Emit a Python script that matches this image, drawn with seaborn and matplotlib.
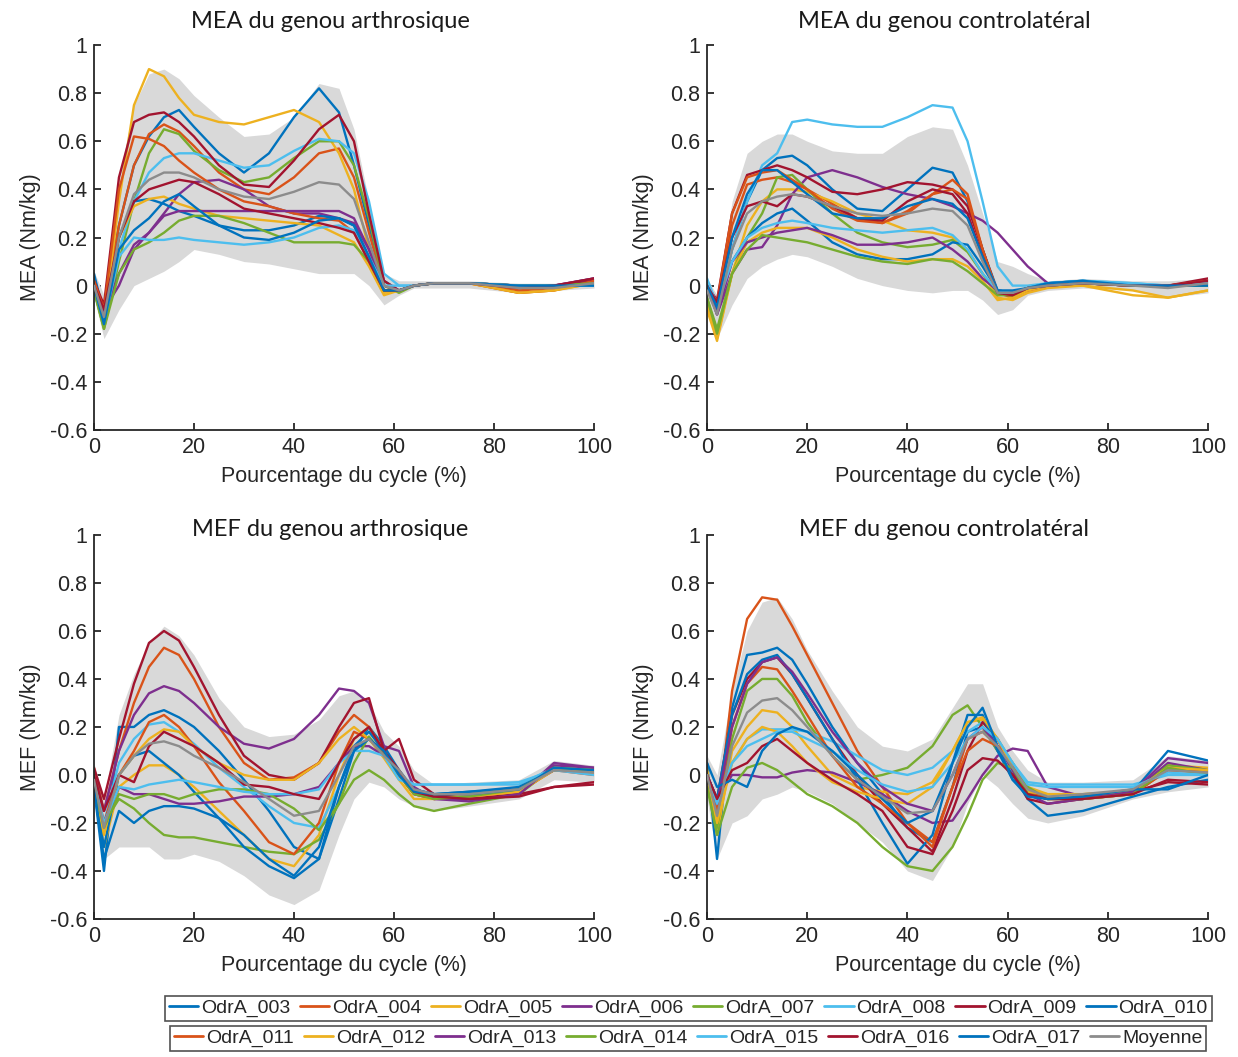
import numpy as np
import pandas as pd
import matplotlib
matplotlib.use('Agg')
import matplotlib.pyplot as plt
from matplotlib.lines import Line2D
import seaborn as sns

# percentage of gait cycle where curves were read
cycle = [0, 2, 5, 8, 11, 14, 17, 20, 25, 30, 35, 40, 45, 49, 52, 55, 58, 61, 64, 68, 75, 85, 92, 100]

subjects = ['OdrA_003', 'OdrA_004', 'OdrA_005', 'OdrA_006', 'OdrA_007', 'OdrA_008', 'OdrA_009', 'OdrA_010',
            'OdrA_011', 'OdrA_012', 'OdrA_013', 'OdrA_014', 'OdrA_015', 'OdrA_016', 'OdrA_017']

# MEA - genou arthrosique
mea_arth = {
    'OdrA_003': [0.05, -0.12, 0.25, 0.5, 0.62, 0.7, 0.73, 0.66, 0.55, 0.47, 0.55, 0.7, 0.82, 0.72, 0.5, 0.25, 0.02, -0.02, 0.0, 0.01, 0.01, 0.0, 0.0, 0.0],
    'OdrA_004': [0.02, -0.1, 0.25, 0.5, 0.63, 0.67, 0.64, 0.58, 0.47, 0.4, 0.38, 0.45, 0.55, 0.57, 0.45, 0.22, 0.0, -0.02, 0.0, 0.01, 0.01, -0.02, -0.01, 0.02],
    'OdrA_005': [0.0, -0.15, 0.35, 0.75, 0.9, 0.87, 0.78, 0.71, 0.68, 0.67, 0.7, 0.73, 0.68, 0.55, 0.4, 0.15, -0.03, -0.02, 0.0, 0.01, 0.01, -0.03, -0.02, 0.01],
    'OdrA_006': [0.0, -0.1, 0.0, 0.15, 0.22, 0.3, 0.38, 0.43, 0.44, 0.4, 0.33, 0.3, 0.3, 0.28, 0.26, 0.15, 0.0, -0.02, 0.0, 0.01, 0.01, 0.0, 0.0, 0.03],
    'OdrA_007': [-0.02, -0.18, 0.1, 0.35, 0.55, 0.65, 0.63, 0.56, 0.48, 0.43, 0.45, 0.53, 0.6, 0.6, 0.5, 0.28, 0.0, -0.03, 0.0, 0.01, 0.01, 0.0, 0.0, 0.02],
    'OdrA_008': [0.0, -0.15, 0.15, 0.35, 0.47, 0.53, 0.55, 0.55, 0.52, 0.49, 0.5, 0.56, 0.61, 0.6, 0.55, 0.35, 0.05, 0.0, 0.0, 0.01, 0.01, 0.0, 0.0, 0.0],
    'OdrA_009': [0.02, -0.08, 0.45, 0.68, 0.71, 0.72, 0.68, 0.62, 0.5, 0.42, 0.41, 0.52, 0.65, 0.71, 0.6, 0.3, 0.02, -0.02, 0.0, 0.01, 0.01, 0.0, 0.0, 0.02],
    'OdrA_010': [0.0, -0.15, 0.2, 0.35, 0.36, 0.34, 0.31, 0.29, 0.25, 0.23, 0.23, 0.25, 0.29, 0.28, 0.25, 0.12, -0.02, -0.02, 0.0, 0.01, 0.01, 0.0, 0.0, 0.01],
    'OdrA_011': [0.02, -0.1, 0.4, 0.62, 0.61, 0.58, 0.52, 0.47, 0.4, 0.35, 0.33, 0.3, 0.28, 0.27, 0.22, 0.1, -0.02, -0.02, 0.0, 0.01, 0.01, -0.03, -0.02, 0.02],
    'OdrA_012': [0.0, -0.15, 0.2, 0.33, 0.36, 0.37, 0.34, 0.32, 0.29, 0.28, 0.27, 0.26, 0.25, 0.21, 0.18, 0.08, -0.04, -0.02, 0.0, 0.01, 0.01, -0.03, -0.02, 0.01],
    'OdrA_013': [0.0, -0.12, 0.05, 0.17, 0.22, 0.29, 0.31, 0.31, 0.31, 0.31, 0.31, 0.31, 0.31, 0.31, 0.28, 0.15, 0.0, -0.02, 0.0, 0.01, 0.01, 0.0, 0.0, 0.03],
    'OdrA_014': [-0.02, -0.18, 0.05, 0.15, 0.18, 0.22, 0.27, 0.29, 0.29, 0.26, 0.22, 0.18, 0.18, 0.18, 0.17, 0.1, -0.02, -0.02, 0.0, 0.01, 0.01, 0.0, 0.0, 0.01],
    'OdrA_015': [0.0, -0.15, 0.12, 0.2, 0.19, 0.19, 0.2, 0.19, 0.18, 0.17, 0.18, 0.2, 0.24, 0.25, 0.23, 0.12, 0.0, 0.0, 0.0, 0.01, 0.01, 0.0, 0.0, 0.0],
    'OdrA_016': [0.0, -0.1, 0.2, 0.35, 0.4, 0.42, 0.44, 0.43, 0.38, 0.32, 0.3, 0.28, 0.26, 0.24, 0.22, 0.1, -0.02, -0.02, 0.0, 0.01, 0.01, -0.01, 0.0, 0.03],
    'OdrA_017': [0.0, -0.16, 0.15, 0.23, 0.28, 0.35, 0.38, 0.33, 0.25, 0.2, 0.19, 0.22, 0.27, 0.28, 0.25, 0.12, -0.02, -0.02, 0.0, 0.01, 0.01, 0.0, 0.0, 0.0],
    'Moyenne':  [0.0, -0.13, 0.2, 0.38, 0.44, 0.47, 0.47, 0.45, 0.4, 0.37, 0.36, 0.39, 0.43, 0.42, 0.36, 0.18, 0.0, -0.02, 0.0, 0.01, 0.01, -0.01, -0.01, 0.01],
}
mea_arth_hi = [0.06, -0.04, 0.45, 0.75, 0.88, 0.9, 0.86, 0.79, 0.7, 0.62, 0.63, 0.7, 0.84, 0.82, 0.65, 0.35, 0.05, 0.02, 0.02, 0.02, 0.02, 0.01, 0.01, 0.03]
mea_arth_lo = [-0.05, -0.22, -0.1, 0.0, 0.03, 0.06, 0.1, 0.15, 0.13, 0.1, 0.09, 0.07, 0.05, 0.05, 0.05, 0.0, -0.08, -0.04, -0.01, -0.01, -0.01, -0.03, -0.02, -0.01]

# MEA - genou controlateral
mea_contra = {
    'OdrA_003': [0.0, -0.1, 0.15, 0.35, 0.48, 0.53, 0.54, 0.5, 0.4, 0.32, 0.31, 0.4, 0.49, 0.47, 0.35, 0.15, -0.02, -0.03, -0.01, 0.01, 0.01, 0.0, 0.0, 0.0],
    'OdrA_004': [0.0, -0.08, 0.25, 0.42, 0.44, 0.45, 0.43, 0.4, 0.34, 0.28, 0.26, 0.3, 0.38, 0.44, 0.38, 0.15, -0.03, -0.05, -0.02, 0.0, 0.01, 0.0, 0.0, 0.02],
    'OdrA_005': [-0.08, -0.22, 0.05, 0.25, 0.35, 0.4, 0.4, 0.39, 0.35, 0.3, 0.27, 0.23, 0.22, 0.2, 0.15, 0.05, -0.05, -0.06, -0.03, -0.01, 0.0, -0.02, -0.05, -0.02],
    'OdrA_006': [0.0, -0.12, 0.05, 0.15, 0.16, 0.25, 0.38, 0.45, 0.48, 0.45, 0.41, 0.38, 0.36, 0.33, 0.3, 0.27, 0.22, 0.15, 0.08, 0.01, 0.01, 0.0, 0.0, 0.0],
    'OdrA_007': [-0.05, -0.18, 0.05, 0.2, 0.3, 0.45, 0.46, 0.4, 0.3, 0.22, 0.18, 0.16, 0.17, 0.19, 0.14, 0.05, -0.03, -0.03, -0.01, 0.0, 0.01, 0.0, 0.0, 0.01],
    'OdrA_008': [0.02, -0.08, 0.15, 0.35, 0.5, 0.55, 0.68, 0.69, 0.67, 0.66, 0.66, 0.7, 0.75, 0.74, 0.6, 0.35, 0.08, 0.0, 0.0, 0.01, 0.02, 0.01, 0.0, 0.01],
    'OdrA_009': [0.0, -0.06, 0.3, 0.46, 0.48, 0.5, 0.48, 0.45, 0.39, 0.38, 0.4, 0.43, 0.42, 0.4, 0.33, 0.15, -0.03, -0.04, -0.01, 0.0, 0.01, 0.0, 0.0, 0.03],
    'OdrA_010': [0.0, -0.1, 0.1, 0.2, 0.26, 0.3, 0.32, 0.27, 0.18, 0.13, 0.11, 0.11, 0.13, 0.18, 0.17, 0.08, -0.02, -0.03, -0.01, 0.01, 0.02, 0.0, 0.0, 0.0],
    'OdrA_011': [0.0, -0.07, 0.3, 0.45, 0.47, 0.48, 0.44, 0.4, 0.32, 0.27, 0.26, 0.31, 0.38, 0.4, 0.36, 0.15, -0.03, -0.04, -0.02, 0.0, 0.01, 0.0, 0.0, 0.02],
    'OdrA_012': [-0.1, -0.23, 0.05, 0.18, 0.22, 0.24, 0.24, 0.24, 0.2, 0.15, 0.12, 0.1, 0.11, 0.11, 0.08, 0.02, -0.06, -0.05, -0.02, 0.0, 0.0, -0.04, -0.05, -0.02],
    'OdrA_013': [0.0, -0.12, 0.1, 0.18, 0.2, 0.22, 0.23, 0.24, 0.21, 0.17, 0.17, 0.18, 0.2, 0.15, 0.1, 0.03, -0.02, -0.03, -0.01, 0.0, 0.01, 0.0, 0.0, 0.01],
    'OdrA_014': [-0.05, -0.2, 0.05, 0.15, 0.21, 0.2, 0.19, 0.18, 0.15, 0.12, 0.1, 0.09, 0.11, 0.1, 0.06, 0.01, -0.04, -0.04, -0.01, 0.0, 0.01, 0.0, 0.0, 0.0],
    'OdrA_015': [0.03, -0.08, 0.1, 0.2, 0.24, 0.26, 0.27, 0.26, 0.24, 0.23, 0.22, 0.23, 0.24, 0.21, 0.15, 0.05, -0.02, -0.03, -0.01, 0.01, 0.02, 0.01, 0.0, 0.01],
    'OdrA_016': [0.0, -0.07, 0.2, 0.33, 0.35, 0.33, 0.38, 0.37, 0.33, 0.28, 0.27, 0.35, 0.4, 0.38, 0.3, 0.12, -0.03, -0.04, -0.01, 0.0, 0.01, 0.0, 0.0, 0.02],
    'OdrA_017': [0.0, -0.09, 0.2, 0.38, 0.48, 0.48, 0.43, 0.38, 0.3, 0.28, 0.28, 0.33, 0.36, 0.34, 0.28, 0.12, -0.02, -0.02, -0.01, 0.01, 0.02, 0.0, 0.0, 0.0],
    'Moyenne':  [-0.02, -0.12, 0.15, 0.3, 0.35, 0.37, 0.38, 0.37, 0.33, 0.3, 0.29, 0.3, 0.32, 0.31, 0.25, 0.1, -0.03, -0.03, -0.01, 0.0, 0.01, 0.0, -0.01, 0.01],
}
mea_contra_hi = [0.03, -0.04, 0.35, 0.55, 0.6, 0.63, 0.63, 0.6, 0.56, 0.55, 0.55, 0.62, 0.66, 0.65, 0.5, 0.3, 0.1, 0.08, 0.05, 0.02, 0.03, 0.02, 0.02, 0.03]
mea_contra_lo = [-0.1, -0.22, -0.08, 0.03, 0.08, 0.11, 0.13, 0.12, 0.08, 0.03, 0.0, -0.02, -0.03, -0.02, -0.02, -0.06, -0.12, -0.1, -0.04, -0.02, -0.01, -0.02, -0.05, -0.03]

# MEF - genou arthrosique
mef_arth = {
    'OdrA_003': [-0.05, -0.4, 0.2, 0.2, 0.25, 0.27, 0.24, 0.2, 0.1, -0.02, -0.15, -0.3, -0.35, -0.1, 0.1, 0.2, 0.12, 0.02, -0.06, -0.08, -0.07, -0.06, 0.02, 0.01],
    'OdrA_004': [0.03, -0.15, 0.1, 0.3, 0.45, 0.53, 0.5, 0.4, 0.2, 0.05, -0.02, -0.01, 0.05, 0.18, 0.25, 0.2, 0.08, 0.0, -0.08, -0.1, -0.09, -0.06, 0.02, 0.0],
    'OdrA_005': [-0.05, -0.3, -0.05, 0.0, 0.04, 0.04, 0.0, -0.05, -0.15, -0.25, -0.35, -0.38, -0.25, 0.0, 0.15, 0.2, 0.1, 0.0, -0.07, -0.09, -0.08, -0.06, 0.03, 0.02],
    'OdrA_006': [0.0, -0.15, 0.1, 0.25, 0.34, 0.37, 0.35, 0.3, 0.2, 0.13, 0.11, 0.15, 0.25, 0.36, 0.35, 0.3, 0.12, 0.1, -0.05, -0.1, -0.1, -0.08, 0.05, 0.03],
    'OdrA_007': [-0.05, -0.2, -0.1, -0.14, -0.2, -0.25, -0.26, -0.26, -0.28, -0.3, -0.32, -0.33, -0.27, -0.12, -0.02, 0.02, -0.02, -0.08, -0.13, -0.15, -0.12, -0.08, 0.03, 0.02],
    'OdrA_008': [0.0, -0.2, 0.05, 0.15, 0.21, 0.22, 0.18, 0.13, 0.03, -0.05, -0.13, -0.2, -0.22, -0.05, 0.12, 0.15, 0.08, 0.0, -0.04, -0.04, -0.04, -0.04, 0.03, 0.02],
    'OdrA_009': [0.03, -0.1, 0.15, 0.38, 0.55, 0.6, 0.56, 0.45, 0.25, 0.08, 0.0, -0.02, 0.05, 0.2, 0.3, 0.32, 0.1, 0.15, -0.02, -0.08, -0.1, -0.08, -0.05, -0.04],
    'OdrA_010': [-0.05, -0.3, 0.0, 0.08, 0.1, 0.05, 0.0, -0.07, -0.18, -0.3, -0.38, -0.43, -0.35, -0.05, 0.12, 0.18, 0.1, 0.0, -0.06, -0.08, -0.07, -0.05, 0.02, 0.02],
    'OdrA_011': [0.0, -0.2, 0.0, 0.1, 0.22, 0.25, 0.2, 0.12, -0.03, -0.15, -0.28, -0.33, -0.2, 0.05, 0.18, 0.15, 0.08, 0.0, -0.08, -0.1, -0.09, -0.07, 0.02, 0.01],
    'OdrA_012': [-0.03, -0.25, 0.0, 0.08, 0.15, 0.19, 0.18, 0.12, 0.05, 0.0, -0.02, -0.02, 0.05, 0.15, 0.2, 0.15, 0.07, -0.02, -0.1, -0.1, -0.09, -0.07, 0.02, 0.01],
    'OdrA_013': [-0.05, -0.2, -0.05, -0.08, -0.08, -0.1, -0.12, -0.12, -0.11, -0.09, -0.09, -0.08, -0.05, 0.05, 0.12, 0.12, 0.08, 0.0, -0.06, -0.1, -0.11, -0.08, 0.04, 0.03],
    'OdrA_014': [-0.05, -0.22, -0.08, -0.1, -0.08, -0.08, -0.1, -0.08, -0.06, -0.06, -0.08, -0.14, -0.23, -0.12, 0.05, 0.16, 0.08, 0.0, -0.08, -0.1, -0.09, -0.06, 0.03, 0.02],
    'OdrA_015': [-0.02, -0.2, -0.05, -0.06, -0.04, -0.03, -0.02, -0.03, -0.05, -0.07, -0.08, -0.08, -0.06, 0.05, 0.1, 0.1, 0.08, -0.02, -0.04, -0.04, -0.04, -0.03, 0.02, 0.0],
    'OdrA_016': [0.0, -0.15, 0.0, -0.03, 0.12, 0.18, 0.15, 0.12, 0.05, -0.04, -0.05, -0.08, -0.1, 0.05, 0.15, 0.2, 0.1, 0.02, -0.07, -0.09, -0.1, -0.09, -0.05, -0.03],
    'OdrA_017': [-0.05, -0.35, -0.15, -0.2, -0.15, -0.13, -0.13, -0.14, -0.18, -0.25, -0.35, -0.42, -0.3, -0.05, 0.1, 0.15, 0.1, 0.0, -0.07, -0.08, -0.08, -0.06, 0.03, 0.02],
    'Moyenne':  [-0.02, -0.22, 0.0, 0.08, 0.13, 0.14, 0.12, 0.08, 0.03, -0.03, -0.1, -0.17, -0.15, 0.0, 0.12, 0.15, 0.08, 0.02, -0.06, -0.08, -0.08, -0.06, 0.02, 0.01],
}
mef_arth_hi = [0.05, -0.1, 0.25, 0.42, 0.55, 0.62, 0.58, 0.5, 0.32, 0.2, 0.16, 0.17, 0.23, 0.33, 0.35, 0.3, 0.18, 0.12, 0.02, -0.04, -0.03, -0.02, 0.06, 0.04]
mef_arth_lo = [-0.1, -0.35, -0.3, -0.3, -0.3, -0.35, -0.35, -0.33, -0.36, -0.42, -0.5, -0.54, -0.48, -0.25, -0.1, -0.03, -0.05, -0.1, -0.13, -0.15, -0.13, -0.1, -0.02, -0.03]

# MEF - genou controlateral
mef_contra = {
    'OdrA_003': [0.05, -0.35, 0.28, 0.5, 0.51, 0.53, 0.48, 0.38, 0.2, 0.05, -0.08, -0.22, -0.28, -0.05, 0.18, 0.2, 0.1, 0.0, -0.1, -0.17, -0.15, -0.09, -0.05, -0.02],
    'OdrA_004': [0.0, -0.2, 0.35, 0.65, 0.74, 0.73, 0.62, 0.5, 0.3, 0.1, -0.05, -0.2, -0.28, -0.05, 0.15, 0.18, 0.12, 0.05, -0.08, -0.1, -0.1, -0.08, 0.02, 0.02],
    'OdrA_005': [0.03, -0.25, 0.1, 0.2, 0.27, 0.26, 0.2, 0.12, 0.0, -0.05, -0.07, -0.08, -0.03, 0.1, 0.22, 0.23, 0.15, 0.05, -0.05, -0.08, -0.08, -0.07, 0.04, 0.03],
    'OdrA_006': [0.0, -0.1, 0.0, 0.0, -0.01, -0.01, 0.01, 0.02, 0.01, -0.03, -0.08, -0.15, -0.2, -0.19, -0.1, 0.0, 0.08, 0.11, 0.1, -0.05, -0.09, -0.07, 0.05, 0.02],
    'OdrA_007': [0.0, -0.22, 0.15, 0.35, 0.4, 0.4, 0.33, 0.22, 0.08, -0.02, 0.0, 0.03, 0.12, 0.25, 0.29, 0.2, 0.1, 0.05, -0.05, -0.1, -0.09, -0.08, 0.04, 0.02],
    'OdrA_008': [0.0, -0.15, 0.05, 0.15, 0.19, 0.19, 0.19, 0.18, 0.14, 0.08, 0.02, 0.0, 0.03, 0.1, 0.18, 0.22, 0.15, 0.05, -0.03, -0.04, -0.04, -0.04, 0.0, 0.0],
    'OdrA_009': [0.0, -0.1, 0.25, 0.4, 0.47, 0.49, 0.42, 0.32, 0.15, 0.0, -0.12, -0.22, -0.32, -0.1, 0.1, 0.22, 0.15, 0.02, -0.1, -0.12, -0.1, -0.07, -0.03, -0.04],
    'OdrA_010': [0.0, -0.1, 0.25, 0.42, 0.48, 0.5, 0.42, 0.32, 0.15, -0.02, -0.2, -0.37, -0.25, 0.05, 0.25, 0.25, 0.1, -0.02, -0.08, -0.1, -0.1, -0.07, 0.1, 0.06],
    'OdrA_011': [0.0, -0.15, 0.2, 0.38, 0.45, 0.44, 0.35, 0.25, 0.08, -0.05, -0.12, -0.2, -0.3, -0.05, 0.1, 0.15, 0.12, 0.04, -0.07, -0.1, -0.1, -0.08, 0.02, 0.01],
    'OdrA_012': [0.0, -0.2, 0.05, 0.15, 0.2, 0.18, 0.12, 0.05, -0.03, -0.07, -0.1, -0.12, -0.05, 0.1, 0.22, 0.24, 0.15, 0.03, -0.07, -0.08, -0.08, -0.07, 0.03, 0.02],
    'OdrA_013': [0.0, -0.12, 0.2, 0.38, 0.47, 0.49, 0.43, 0.34, 0.18, 0.05, -0.05, -0.12, -0.15, 0.0, 0.15, 0.2, 0.12, 0.02, -0.08, -0.12, -0.1, -0.07, 0.07, 0.05],
    'OdrA_014': [-0.05, -0.25, -0.05, 0.03, 0.05, 0.02, -0.03, -0.08, -0.13, -0.2, -0.3, -0.38, -0.4, -0.3, -0.17, -0.02, 0.05, 0.03, -0.08, -0.1, -0.1, -0.08, 0.03, 0.0],
    'OdrA_015': [0.0, -0.12, 0.05, 0.12, 0.15, 0.18, 0.18, 0.15, 0.1, 0.02, -0.04, -0.07, -0.05, 0.05, 0.15, 0.2, 0.15, 0.05, -0.04, -0.05, -0.05, -0.05, 0.01, 0.0],
    'OdrA_016': [0.0, -0.1, 0.02, 0.05, 0.12, 0.15, 0.1, 0.05, -0.02, -0.08, -0.15, -0.3, -0.33, -0.15, 0.02, 0.07, 0.06, 0.0, -0.08, -0.1, -0.1, -0.08, -0.02, -0.03],
    'OdrA_017': [0.05, -0.05, -0.02, -0.05, 0.1, 0.17, 0.2, 0.18, 0.1, 0.0, -0.1, -0.2, -0.15, 0.05, 0.2, 0.28, 0.12, -0.02, -0.09, -0.1, -0.09, -0.06, -0.06, 0.0],
    'Moyenne':  [0.0, -0.17, 0.12, 0.26, 0.31, 0.32, 0.27, 0.2, 0.08, -0.02, -0.09, -0.16, -0.15, 0.0, 0.15, 0.18, 0.12, 0.03, -0.06, -0.09, -0.08, -0.06, 0.02, 0.01],
}
mef_contra_hi = [0.08, 0.0, 0.35, 0.6, 0.72, 0.74, 0.65, 0.52, 0.35, 0.2, 0.12, 0.1, 0.15, 0.28, 0.38, 0.38, 0.2, 0.1, 0.02, -0.03, -0.03, -0.02, 0.08, 0.06]
mef_contra_lo = [-0.1, -0.35, -0.2, -0.17, -0.1, -0.08, -0.05, -0.07, -0.12, -0.2, -0.28, -0.4, -0.44, -0.3, -0.12, 0.0, -0.05, -0.12, -0.18, -0.2, -0.17, -0.1, -0.07, -0.05]

# MATLAB default colour order, cycled over the subjects
matlab = ['#0072BD', '#D95319', '#EDB120', '#7E2F8E', '#77AC30', '#4DBEEE', '#A2142F']
palette = {s: matlab[i % 7] for i, s in enumerate(subjects)}
palette['Moyenne'] = '#8c8c8c'

sns.set_style('ticks')
plt.rcParams['font.family'] = ['Liberation Sans', 'DejaVu Sans']
plt.rcParams['xtick.direction'] = 'in'
plt.rcParams['ytick.direction'] = 'in'


def to_long(curves):
    rows = []
    for name, vals in curves.items():
        for x, v in zip(cycle, vals):
            rows.append((name, x, v))
    return pd.DataFrame(rows, columns=['sujet', 'cycle', 'moment'])


def draw_panel(ax, curves, hi, lo, title, ylabel, zero_label, tx):
    ax.fill_between(cycle, lo, hi, color='#d9d9d9', lw=0, zorder=1)
    df = to_long(curves)
    sns.lineplot(data=df[df.sujet != 'Moyenne'], x='cycle', y='moment', hue='sujet',
                 palette=palette, estimator=None, sort=False, legend=False, lw=1.7, ax=ax, zorder=2)
    sns.lineplot(data=df[df.sujet == 'Moyenne'], x='cycle', y='moment', color=palette['Moyenne'],
                 estimator=None, sort=False, legend=False, lw=1.7, ax=ax, zorder=3)
    ax.set_xlim(0, 100)
    ax.set_ylim(-0.6, 1)
    ax.set_xticks([0, 20, 40, 60, 80, 100])
    yt = [-0.6, -0.4, -0.2, 0, 0.2, 0.4, 0.6, 0.8, 1]
    ax.set_yticks(yt)
    ax.set_yticklabels(['-0.6', '-0.4', '-0.2', zero_label, '0.2', '0.4', '0.6', '0.8', '1'])
    ax.tick_params(labelsize=15.5, length=5, width=1.3, colors='#262626', pad=5)
    ax.set_xlabel('Pourcentage du cycle (%)', fontsize=15.5, color='#262626', labelpad=6)
    ax.set_ylabel(ylabel, fontsize=15.5, color='#262626', labelpad=6)
    for side in ['top', 'right']:
        ax.spines[side].set_visible(False)
    for side in ['left', 'bottom']:
        ax.spines[side].set_linewidth(1.3)
        ax.spines[side].set_color('#262626')
    fig = ax.figure
    fig.text(tx[0], tx[1], title, ha='center', va='center', fontsize=17,
             family=['Lato', 'DejaVu Sans'], color='#1a1a1a')


fig = plt.figure(figsize=(12.38, 10.57), dpi=100)
ax1 = fig.add_axes([0.0759, 0.5932, 0.4039, 0.3642])
ax2 = fig.add_axes([0.5711, 0.5932, 0.4047, 0.3642])
ax3 = fig.add_axes([0.0759, 0.1306, 0.4039, 0.3633])
ax4 = fig.add_axes([0.5711, 0.1306, 0.4047, 0.3633])

draw_panel(ax1, mea_arth, mea_arth_hi, mea_arth_lo, 'MEA du genou arthrosique', 'MEA (Nm/kg)', '0',
           (330 / 1238, 1 - 21 / 1057))
draw_panel(ax2, mea_contra, mea_contra_hi, mea_contra_lo, 'MEA du genou controlatéral', 'MEA (Nm/kg)', '0',
           (944 / 1238, 1 - 21 / 1057))
draw_panel(ax3, mef_arth, mef_arth_hi, mef_arth_lo, 'MEF du genou arthrosique', 'MEF (Nm/kg)', '0.0',
           (330 / 1238, 1 - 529 / 1057))
draw_panel(ax4, mef_contra, mef_contra_hi, mef_contra_lo, 'MEF du genou controlatéral', 'MEF (Nm/kg)', '0',
           (944 / 1238, 1 - 529 / 1057))

# two-row legend, as two boxes
names = subjects + ['Moyenne']
handles = [Line2D([], [], color=palette[n], lw=2) for n in names]
for row, y in [(0, 1 - 1008.5 / 1057), (1, 1 - 1038.5 / 1057)]:
    leg = fig.legend(handles[row * 8:(row + 1) * 8], names[row * 8:(row + 1) * 8], ncol=8,
                     loc='center', bbox_to_anchor=(0.556, y), fontsize=14, frameon=True,
                     fancybox=False, edgecolor='#262626', handlelength=1.5, handletextpad=0.15,
                     columnspacing=0.5, borderpad=0.2, borderaxespad=0)
    leg.get_frame().set_linewidth(1.2)

fig.savefig('out.png', dpi=100, facecolor='white')
